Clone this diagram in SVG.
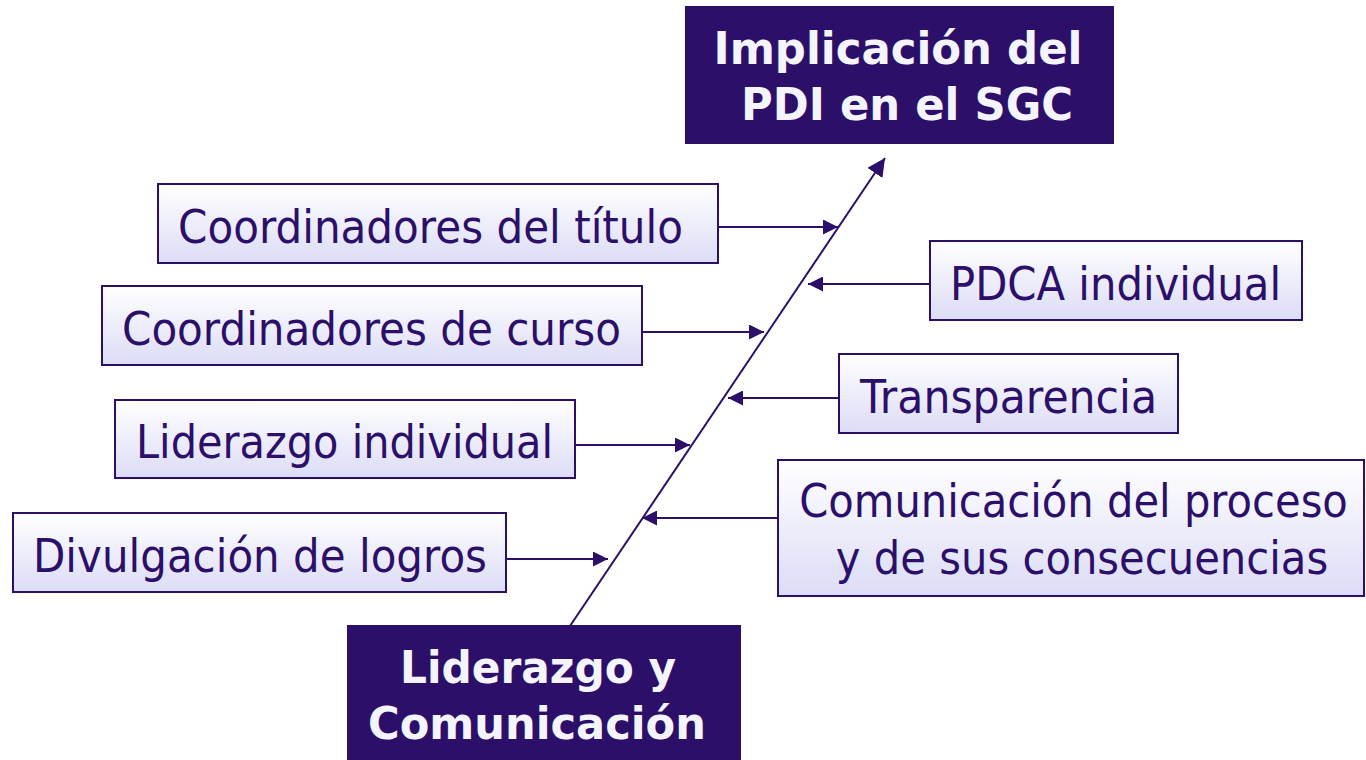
<svg xmlns="http://www.w3.org/2000/svg" width="1366" height="760" viewBox="0 0 1366 760">
<defs>
<linearGradient id="boxfill" x1="0" y1="0" x2="0" y2="1">
<stop offset="0" stop-color="#ffffff"/>
<stop offset="1" stop-color="#dcdcf6"/>
</linearGradient>
<marker id="ah" viewBox="0 0 10 10" refX="10" refY="5" markerWidth="7.5" markerHeight="7.5" markerUnits="strokeWidth" orient="auto">
<path d="M0,0 L10,5 L0,10 Z" fill="#2b0f68"/>
</marker>
<marker id="ahbig" viewBox="0 0 10 10" refX="10" refY="5" markerWidth="9" markerHeight="9" markerUnits="strokeWidth" orient="auto">
<path d="M0,0 L10,5 L0,10 Z" fill="#2b0f68"/>
</marker>
</defs>
<style>
.box{fill:url(#boxfill);stroke:#2b0f68;stroke-width:2}
.dark{fill:#2b0f68}
.t{font-family:"DejaVu Sans","Liberation Sans",sans-serif;font-size:47px;fill:#2b0f68;text-anchor:middle}
.h{font-family:"DejaVu Sans","Liberation Sans",sans-serif;font-size:44px;font-weight:bold;fill:#f4f4fc;text-anchor:middle}
.c{stroke:#2b0f68;stroke-width:2;fill:none;marker-end:url(#ah)}
.main{stroke:#2b0f68;stroke-width:2;fill:none;marker-end:url(#ahbig)}
</style>
<rect width="1366" height="760" fill="#ffffff"/>
<g id="connectors">
<line class="main" x1="570" y1="626" x2="885" y2="158"/>
<line class="c" x1="718" y1="227" x2="838" y2="227"/>
<line class="c" x1="930" y1="284" x2="808" y2="284"/>
<line class="c" x1="642" y1="332" x2="764" y2="332"/>
<line class="c" x1="839" y1="398" x2="728" y2="398"/>
<line class="c" x1="575" y1="445" x2="690" y2="445"/>
<line class="c" x1="778" y1="518" x2="642" y2="518"/>
<line class="c" x1="506" y1="559" x2="608" y2="559"/>
</g>
<g id="title">
<rect class="dark" x="685" y="6" width="429" height="138"/>
<text class="h" x="898" y="64" textLength="369" lengthAdjust="spacingAndGlyphs">Implicación del</text>
<text class="h" x="907" y="120" textLength="332" lengthAdjust="spacingAndGlyphs">PDI en el SGC</text>
</g>
<g id="root">
<rect class="dark" x="347" y="625" width="394" height="140"/>
<text class="h" x="538" y="683" textLength="276" lengthAdjust="spacingAndGlyphs">Liderazgo y</text>
<text class="h" x="537" y="739" textLength="338" lengthAdjust="spacingAndGlyphs">Comunicación</text>
</g>
<g id="n1">
<rect class="box" x="158" y="184" width="560" height="79"/>
<text class="t" x="430.5" y="243" textLength="505" lengthAdjust="spacingAndGlyphs">Coordinadores del título</text>
</g>
<g id="n2">
<rect class="box" x="102" y="286" width="540" height="79"/>
<text class="t" x="371.5" y="345" textLength="499" lengthAdjust="spacingAndGlyphs">Coordinadores de curso</text>
</g>
<g id="n3">
<rect class="box" x="115" y="400" width="460" height="78"/>
<text class="t" x="344.5" y="458" textLength="417" lengthAdjust="spacingAndGlyphs">Liderazgo individual</text>
</g>
<g id="n4">
<rect class="box" x="13" y="513" width="493" height="79"/>
<text class="t" x="260" y="572" textLength="454" lengthAdjust="spacingAndGlyphs">Divulgación de logros</text>
</g>
<g id="n5">
<rect class="box" x="930" y="241" width="372" height="79"/>
<text class="t" x="1115.5" y="300" textLength="331" lengthAdjust="spacingAndGlyphs">PDCA individual</text>
</g>
<g id="n6">
<rect class="box" x="839" y="354" width="339" height="79"/>
<text class="t" x="1008.5" y="413" textLength="297" lengthAdjust="spacingAndGlyphs">Transparencia</text>
</g>
<g id="n7">
<rect class="box" x="778" y="460" width="586" height="136"/>
<text class="t" transform="translate(1073.5 517) scale(0.885 1)" x="0" y="0" textLength="620" lengthAdjust="spacingAndGlyphs">Comunicación del proceso</text>
<text class="t" transform="translate(1082 574) scale(0.887 1)" x="0" y="0" textLength="555" lengthAdjust="spacingAndGlyphs">y de sus consecuencias</text>
</g>
</svg>
